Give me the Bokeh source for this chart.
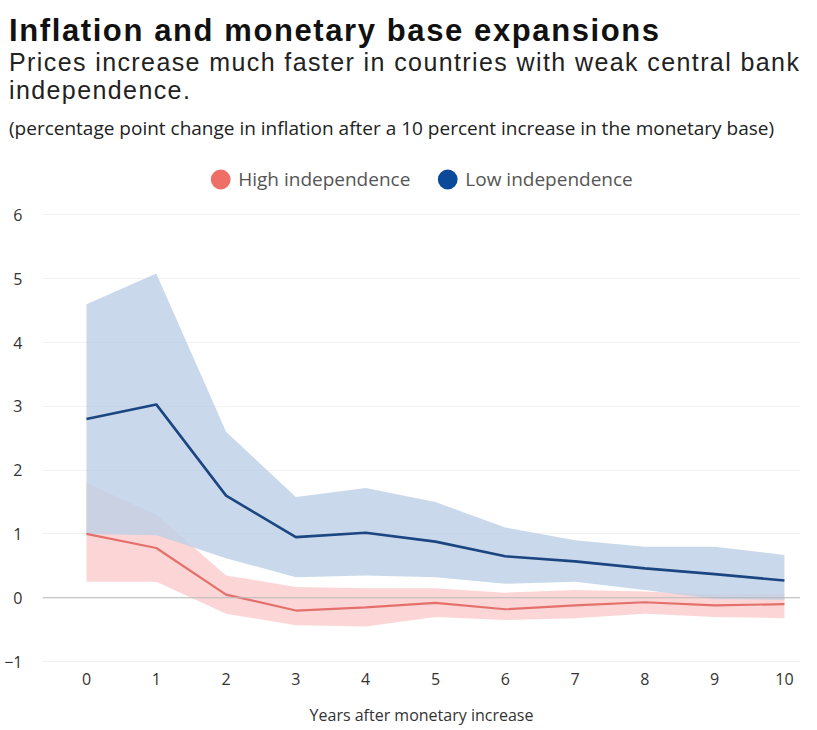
import numpy as np
from bokeh.plotting import figure
from bokeh.models import Legend, LegendItem, Span, Range1d, FixedTicker, Div
from bokeh.layouts import column
from bokeh.embed import file_html
from bokeh.resources import INLINE

years = [0, 1, 2, 3, 4, 5, 6, 7, 8, 9, 10]

low_mid = [2.80, 3.03, 1.60, 0.95, 1.02, 0.88, 0.65, 0.57, 0.46, 0.37, 0.27]
low_upper = [4.60, 5.08, 2.60, 1.58, 1.72, 1.50, 1.10, 0.90, 0.80, 0.80, 0.67]
low_lower = [1.00, 0.98, 0.62, 0.32, 0.35, 0.32, 0.22, 0.25, 0.12, -0.02, -0.03]

high_mid = [1.00, 0.78, 0.05, -0.20, -0.15, -0.08, -0.18, -0.12, -0.07, -0.12, -0.10]
high_upper = [1.80, 1.30, 0.35, 0.17, 0.15, 0.15, 0.08, 0.12, 0.10, 0.05, 0.05]
high_lower = [0.25, 0.25, -0.25, -0.43, -0.45, -0.30, -0.35, -0.32, -0.25, -0.30, -0.32]

y_ticks = [-1, 0, 1, 2, 3, 4, 5, 6]

title_text = "Inflation and monetary base expansions"
subtitle_1 = "Prices increase much faster in countries with weak central bank"
subtitle_2 = "independence."
note_text = "(percentage point change in inflation after a 10 percent increase in the monetary base)"

BLUE = "#1b4681"
BLUE_BAND = "#bccfe6"
RED = "#e4706b"
RED_BAND = "#fcd6d6"

header = Div(
    text=(
        '<div style="color:#111;white-space:nowrap;margin:0;padding:0">'
        f'<div style="font-family:\'Liberation Sans\';font-size:31px;font-weight:bold;letter-spacing:1.6px;'
        f'line-height:34px;margin:14px 0 0 9px">{title_text}</div>'
        f'<div style="font-family:\'Liberation Sans\';font-size:25px;letter-spacing:1.4px;line-height:28px;'
        f'margin:0 0 0 9px;color:#222">{subtitle_1}</div>'
        f'<div style="font-family:\'Liberation Sans\';font-size:25px;letter-spacing:1.4px;line-height:28px;'
        f'margin:0 0 0 9px;color:#222">{subtitle_2}</div>'
        f'<div style="font-family:\'Open Sans\';font-size:19px;line-height:24px;margin:12px 0 0 9px;'
        f'color:#222">{note_text}</div>'
        '</div>'
    ),
    width=800, height=148, margin=0,
)

p = figure(width=800, height=580, output_backend="svg", toolbar_location=None,
           title=None, x_range=Range1d(-0.63, 10.23), y_range=Range1d(-1.03, 7.04),
           min_border_left=42, min_border_right=0, min_border_top=0, min_border_bottom=0,
           margin=0)

p.outline_line_color = None
p.background_fill_color = "white"

p.varea(x=years, y1=high_lower, y2=high_upper, fill_color=RED_BAND, fill_alpha=1.0)
p.varea(x=years, y1=low_lower, y2=low_upper, fill_color=BLUE_BAND, fill_alpha=0.8)
p.add_layout(Span(location=0, dimension="width", line_color="#b8b8b8", line_width=1.2))
p.line(x=years, y=high_mid, line_color=RED, line_width=2.2)
p.line(x=years, y=low_mid, line_color=BLUE, line_width=2.6)

r_high = p.scatter(x=[np.nan], y=[np.nan], marker="circle", size=8, fill_color="#ef6f67",
                   line_color="#ef6f67", line_width=11)
r_low = p.scatter(x=[np.nan], y=[np.nan], marker="circle", size=8, fill_color="#0b4a9a",
                  line_color="#0b4a9a", line_width=11)

legend = Legend(items=[LegendItem(label="High independence", renderers=[r_high]),
                       LegendItem(label="Low independence", renderers=[r_low])],
                orientation="horizontal", location="top_center",
                label_text_font="Open Sans", label_text_font_size="19px", label_text_color="#555555",
                glyph_width=22, glyph_height=22, spacing=26, label_standoff=7,
                border_line_color=None, background_fill_alpha=0,
                margin=18, padding=6)
p.add_layout(legend)

p.xaxis.ticker = FixedTicker(ticks=years)
p.yaxis.ticker = FixedTicker(ticks=y_ticks)
p.xaxis.axis_label = "Years after monetary increase"
p.xaxis.axis_label_text_font = "Open Sans"
p.xaxis.axis_label_text_font_size = "16px"
p.xaxis.axis_label_text_font_style = "normal"
p.xaxis.axis_label_text_color = "#333333"
p.xaxis.axis_label_standoff = 16
for ax in (p.xaxis, p.yaxis):
    ax.axis_line_color = None
    ax.major_tick_line_color = None
    ax.minor_tick_line_color = None
    ax.major_label_text_font = "Open Sans"
    ax.major_label_text_font_size = "16px"
    ax.major_label_text_color = "#333333"
p.xaxis.major_label_standoff = 3
p.yaxis.major_label_standoff = 20
p.yaxis.major_tick_out = 0
p.yaxis.major_tick_in = 0

p.xgrid.grid_line_color = None
p.ygrid.grid_line_color = "#f1f1f1"
p.ygrid.grid_line_width = 1

layout = column(header, p, spacing=0, margin=0)
open("out.html", "w").write(file_html(layout, INLINE))
